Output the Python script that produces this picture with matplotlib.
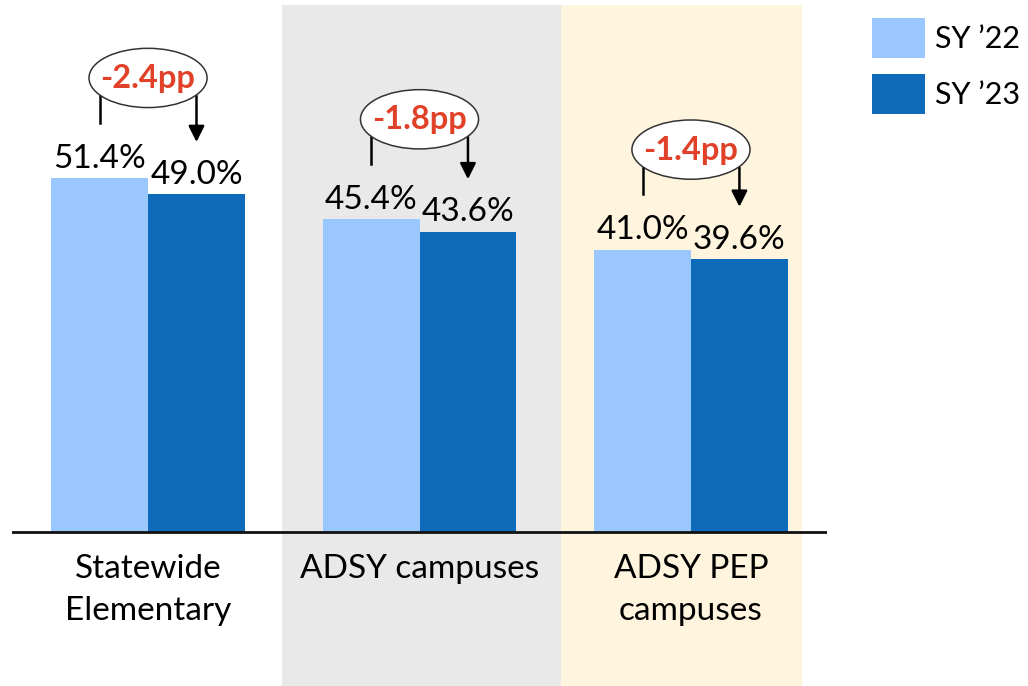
import numpy as np
import matplotlib
matplotlib.use("Agg")
import matplotlib.pyplot as plt
from matplotlib.patches import Ellipse, Rectangle

categories = ["Statewide\nElementary", "ADSY campuses", "ADSY PEP\ncampuses"]
series_names = ["SY \u201922", "SY \u201923"]
sy22 = [51.4, 45.4, 41.0]
sy23 = [49.0, 43.6, 39.6]
changes = ["-2.4pp", "-1.8pp", "-1.4pp"]

light = "#9BC7FF"
dark = "#0E6BBA"
red = "#E04128"
font = "Lato"

plt.rcParams["font.family"] = [font, "DejaVu Sans"]

W, H = 1028, 686
fig = plt.figure(figsize=(W / 100, H / 100), dpi=100)
# axes covers full height; baseline (y=0) sits at 532 px
ax = fig.add_axes([12.3 / W, 0, 814.4 / W, 1])
ax.set_xlim(-0.5, 2.5)
ppu = 6.89
ax.set_ylim(-(H - 532) / ppu, 532 / ppu)
ax.axis("off")

# background bands
top = 1 - 5 / H
ax.axvspan(0.494, 1.52, ymin=0, ymax=top, color="#E9E9E9", lw=0, zorder=0)
ax.axvspan(1.52, 2.408, ymin=0, ymax=top, color="#FFF5DE", lw=0, zorder=0)

x = np.arange(len(categories))
w = 0.357
ax.bar(x - w / 2, sy22, w, color=light, zorder=2)
ax.bar(x + w / 2, sy23, w, color=dark, zorder=2)
ax.axhline(0, color="#111111", lw=2, zorder=3)

for i in range(len(categories)):
    ax.text(x[i] - w / 2, sy22[i] + 0.6, f"{sy22[i]:.1f}%", ha="center", va="bottom",
            fontsize=24, color="black", zorder=4)
    ax.text(x[i] + w / 2, sy23[i] + 0.6, f"{sy23[i]:.1f}%", ha="center", va="bottom",
            fontsize=24, color="black", zorder=4)
    ax.text(x[i], -3.2, categories[i], ha="center", va="top", fontsize=24,
            linespacing=1.5, zorder=4)

    # change callout
    cy = sy22[i] + 14.5
    ax.add_patch(Ellipse((x[i], cy), 0.435, 8.6, facecolor="white",
                         edgecolor="#333333", lw=1.1, zorder=5))
    ax.text(x[i], cy - 0.1, changes[i], ha="center", va="center", fontsize=23.5,
            fontweight="bold", color=red, zorder=6)
    ax.plot([x[i] - w / 2, x[i] - w / 2], [cy - 2.5, sy22[i] + 8.0],
            color="black", lw=1.8, zorder=4)
    ax.annotate("", xy=(x[i] + w / 2, sy23[i] + 7.6), xytext=(x[i] + w / 2, cy - 2.6),
                arrowprops=dict(arrowstyle="-|>", color="black", lw=1.8,
                                mutation_scale=24, shrinkA=0, shrinkB=0), zorder=4)

# legend, placed by hand in figure pixels
for j, (name, col) in enumerate(zip(series_names, [light, dark])):
    y0 = 18 + j * 56
    fig.patches.append(Rectangle((872 / W, 1 - (y0 + 40) / H), 53 / W, 40 / H,
                                 facecolor=col, edgecolor="none",
                                 transform=fig.transFigure, figure=fig))
    fig.text(935 / W, 1 - (y0 + 21) / H, name, ha="left", va="center", fontsize=22)

fig.savefig("out.png", dpi=100)
